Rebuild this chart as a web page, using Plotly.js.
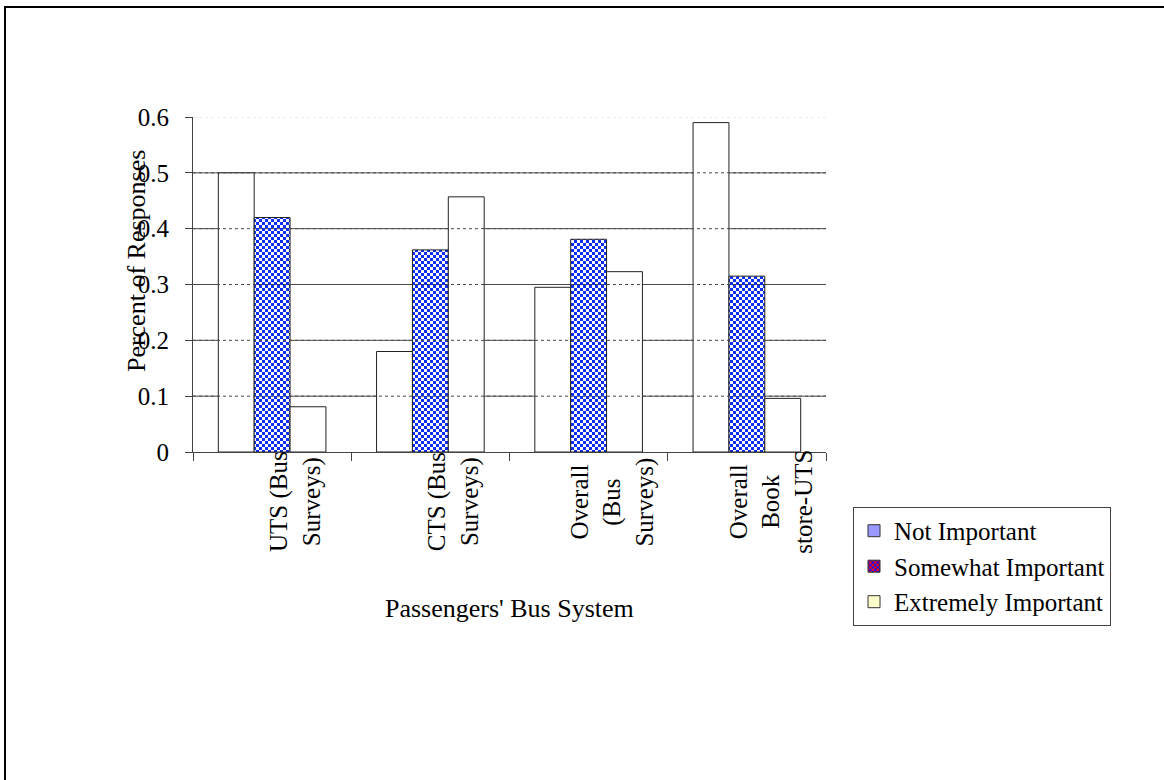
<!DOCTYPE html>
<html>
<head>
<meta charset="utf-8">
<script src="https://cdn.plot.ly/plotly-3.0.1.min.js"></script>
<style>
  html, body { margin: 0; padding: 0; background: #ffffff; overflow: hidden; }
  #chart { position: absolute; left: 0; top: 0; width: 1164px; height: 780px; }
  #frame {
    position: absolute; left: 4px; top: 6px; width: 2000px; height: 2000px;
    border-top: 2px solid #000; border-left: 2px solid #000;
    pointer-events: none; background: transparent;
  }
</style>
</head>
<body>
<div id="chart"></div>
<div id="frame"></div>
<script>
// Survey groups along the category axis
const categories = [
  "UTS (Bus<br>Surveys)",
  "CTS (Bus<br>Surveys)",
  "Overall<br>(Bus<br>Surveys)",
  "Overall<br>Book<br>store-UTS"
];

// Share of responses for each importance level
const seriesNames = ["Not Important", "Somewhat Important", "Extremely Important"];
const notImportant = [0.50, 0.18, 0.295, 0.59];
const somewhatImportant = [0.42, 0.362, 0.381, 0.315];
const extremelyImportant = [0.081, 0.457, 0.323, 0.096];

// Value axis ticks
const yTicks = [0, 0.1, 0.2, 0.3, 0.4, 0.5, 0.6];
const yTickText = ["0", "0.1", "0.2", "0.3", "0.4", "0.5", "0.6"];

const serif = "'Liberation Serif', 'Times New Roman', serif";
const outline = { color: "#222222", width: 1 };
const checkBlue = "#0b2df5";

const bars = [
  {
    type: "bar", name: seriesNames[0], x: categories, y: notImportant,
    marker: { color: "#ffffff", line: outline }, showlegend: false, hoverinfo: "x+y"
  },
  {
    type: "bar", name: seriesNames[1], x: categories, y: somewhatImportant,
    marker: {
      color: "#ffffff", line: outline,
      pattern: { shape: ".", fgcolor: checkBlue, bgcolor: "#ffffff", size: 6, solidity: 0.5, fillmode: "replace" }
    },
    showlegend: false, hoverinfo: "x+y"
  },
  {
    type: "bar", name: seriesNames[2], x: categories, y: extremelyImportant,
    marker: { color: "#ffffff", line: outline }, showlegend: false, hoverinfo: "x+y"
  }
];

// Legend entries carry their own swatch colours on a hidden pair of axes
const legendSwatches = [
  { color: "#9999ff" },
  { color: "#1010ff", pattern: { shape: ".", fgcolor: "#ff0000", bgcolor: "#1010ff", size: 6, solidity: 0.5, fillmode: "replace" } },
  { color: "#ffffcc" }
];
const legendTraces = seriesNames.map((name, i) => ({
  type: "bar", name: name, x: [categories[0]], y: [null],
  xaxis: "x2", yaxis: "y2", legendgroup: "g" + i,
  marker: Object.assign({ line: { color: "#333333", width: 1 } }, legendSwatches[i]),
  hoverinfo: "skip"
}));

// Horizontal guide lines: solid behind the bars, dotted over them
const inner = yTicks.slice(1, -1);
const shapes = [];
inner.forEach(v => {
  shapes.push({ type: "line", xref: "paper", x0: 0, x1: 1, yref: "y", y0: v, y1: v,
    layer: "below", line: { color: "#4a4a4a", width: 1 } });
  shapes.push({ type: "line", xref: "paper", x0: 0, x1: 1, yref: "y", y0: v, y1: v,
    layer: "above", line: { color: "#4a4a4a", width: 1, dash: "dot" } });
});
shapes.push({ type: "line", xref: "paper", x0: 0, x1: 1, yref: "y",
  y0: yTicks[yTicks.length - 1], y1: yTicks[yTicks.length - 1],
  layer: "above", line: { color: "#dddddd", width: 1, dash: "dot" } });

// Rotated, centred category labels under each group
const catLabels = categories.map(c => ({
  text: c, x: c, xref: "x", y: -0.149, yref: "paper",
  xanchor: "center", yanchor: "middle", xshift: 24,
  textangle: -90, align: "center", showarrow: false,
  font: { family: serif, size: 25, color: "#000000" }
}));

const annotations = catLabels.concat([
  {
    text: "Percent of Responses", textangle: -90, showarrow: false,
    xref: "paper", yref: "paper", x: -0.09, y: 0.57,
    xanchor: "center", yanchor: "middle",
    font: { family: serif, size: 26, color: "#000000" }
  },
  {
    text: "Passengers' Bus System", showarrow: false,
    xref: "paper", yref: "paper", x: 0.5, y: -0.466,
    xanchor: "center", yanchor: "middle",
    font: { family: serif, size: 26, color: "#000000" }
  }
]);

const layout = {
  width: 1164, height: 780,
  margin: { l: 193, r: 338, t: 117, b: 328, pad: 0 },
  paper_bgcolor: "#ffffff", plot_bgcolor: "#ffffff",
  font: { family: serif, size: 25, color: "#000000" },
  barmode: "group", bargap: 0.32, bargroupgap: 0,
  xaxis: {
    type: "category", showticklabels: false, showgrid: false, zeroline: false,
    showline: true, linecolor: "#444444", linewidth: 1,
    ticks: "outside", tickson: "boundaries", ticklen: 8, tickcolor: "#444444", tickwidth: 1
  },
  yaxis: {
    range: [0, 0.6], tickvals: yTicks, ticktext: yTickText,
    showgrid: false, zeroline: false,
    showline: true, linecolor: "#444444", linewidth: 1,
    ticks: "outside", ticklen: 7, tickcolor: "#444444", tickwidth: 1,
    ticklabelstandoff: 11,
    tickfont: { family: serif, size: 25, color: "#000000" }
  },
  xaxis2: { overlaying: "x", visible: false, type: "category" },
  yaxis2: { overlaying: "y", visible: false, range: [0, 1] },
  showlegend: true,
  legend: {
    x: 1.0427, y: -0.164, xanchor: "left", yanchor: "top",
    bgcolor: "#ffffff", bordercolor: "#444444", borderwidth: 1,
    font: { family: serif, size: 25, color: "#000000" },
    traceorder: "grouped", tracegroupgap: 0, itemwidth: 30
  },
  shapes: shapes,
  annotations: annotations
};

// Turn the dotted fills into square checkerboards
function toChecker(pat, fg, bg, cell) {
  const ns = "http://www.w3.org/2000/svg";
  const tile = cell * 2;
  pat.setAttribute("width", tile);
  pat.setAttribute("height", tile);
  pat.setAttribute("patternUnits", "userSpaceOnUse");
  while (pat.firstChild) pat.removeChild(pat.firstChild);
  const cells = [[0, 0, tile, tile, bg], [0, 0, cell, cell, fg], [cell, cell, cell, cell, fg]];
  cells.forEach(([x, y, w, h, c]) => {
    const r = document.createElementNS(ns, "rect");
    r.setAttribute("x", x); r.setAttribute("y", y);
    r.setAttribute("width", w); r.setAttribute("height", h);
    r.setAttribute("fill", c);
    pat.appendChild(r);
  });
}

Plotly.newPlot("chart", bars.concat(legendTraces), layout, { displayModeBar: false, staticPlot: true })
  .then(gd => {
    gd.querySelectorAll("pattern").forEach(p => {
      const src = p.outerHTML.toLowerCase();
      if (src.indexOf("255, 0, 0") >= 0 || src.indexOf("#ff0000") >= 0) {
        toChecker(p, "#ff0000", "#1010ff", 3);
      } else {
        toChecker(p, checkBlue, "#ffffff", 3);
      }
    });
  });
</script>
</body>
</html>
